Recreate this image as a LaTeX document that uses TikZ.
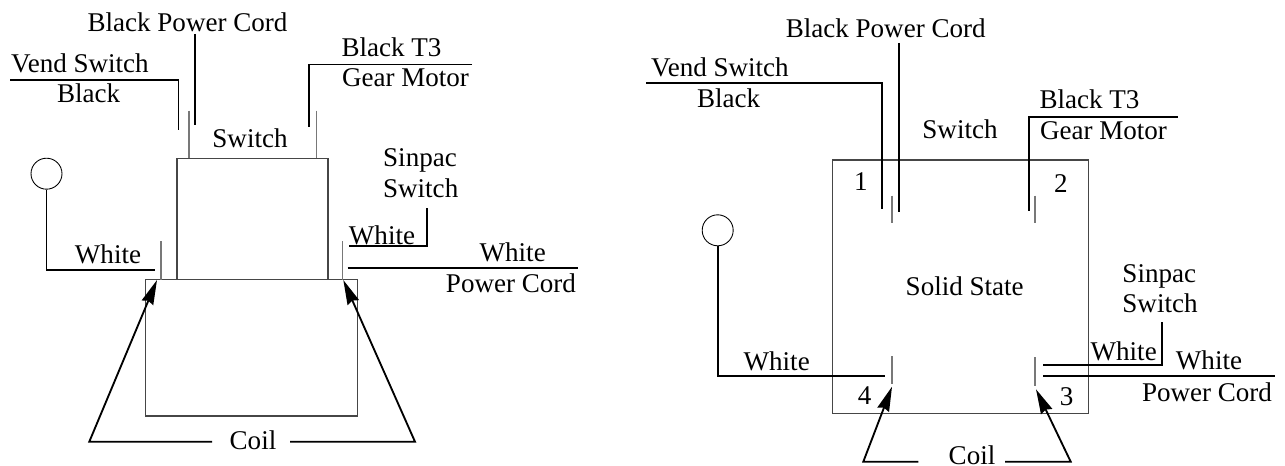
\documentclass[tikz,border=0pt]{standalone}
\usepackage{fontspec}
\setmainfont{Liberation Serif}
\usepackage{xcolor}
\definecolor{Col1}{RGB}{70,70,70}
\definecolor{Col2}{RGB}{120,120,120}
\usepackage{tikz}
\usetikzlibrary{arrows.meta}
\tikzstyle{Wire}=[draw=black,line width=1.05pt]
\tikzstyle{Coil}=[Wire,-{Stealth[length=14pt,width=7pt,inset=1.2pt]},shorten >=0pt]
\tikzstyle{Pin}=[draw=Col2,line width=.7pt]
\tikzstyle{Box}=[draw=Col1,line width=.6pt]
\tikzstyle{Lamp}=[circle,draw=black,line width=.5pt,inner sep=0pt,minimum size=.62cm]
\tikzstyle{Label}=[anchor=base,inner sep=0pt,font=\fontsize{15.4}{18}\selectfont]
\begin{document}
\begin{tikzpicture}[x=.02cm,y=-.02cm]
    \useasboundingbox(0,0)rectangle(1285,466);
    % switch side
    \node[Label](CordL)at(187.5,32){Black Power Cord};
    \node[Label](VendL)at(80,73){Vend Switch};
    \node[Label](BlackL)at(88.7,103){Black};
    \node[Label](SwitchL)at(250,147.7){Switch};
    \node[Label](MotorAL)at(391.5,56.5){Black T3};
    \node[Label](MotorBL)at(405.5,87){Gear Motor};
    \node[Label](SinpacAL)at(420,166.7){Sinpac};
    \node[Label](SinpacBL)at(420.7,197){Switch};
    \node[Label](WhiteSL)at(382,244){White};
    \node[Label](WhitePL)at(512.7,261.7){White};
    \node[Label](PowerL)at(511,292.7){Power Cord};
    \node[Label](WhiteLL)at(108,263.3){White};
    \node[Label](CoilL)at(253,449){Coil};
    \node[Lamp](LampL)at(46.5,173.7){};
    \coordinate(a1)at(177,158.3);
    \coordinate(a2)at(328,279.5);
    \coordinate(a3)at(145.3,279.5);
    \coordinate(a4)at(357.3,416);
    \draw[Box](a1)rectangle(a2);
    \draw[Box](a3)rectangle(a4);
    \coordinate(p1)at(189,110.7);
    \coordinate(p1b)at(189,158.3);
    \coordinate(p2)at(316.7,110.7);
    \coordinate(p2b)at(316.7,158.3);
    \coordinate(p3)at(161,241);
    \coordinate(p3b)at(161,279.5);
    \coordinate(p4)at(342.3,241);
    \coordinate(p4b)at(342.3,279.5);
    \draw[Pin](p1)--(p1b);
    \draw[Pin](p2)--(p2b);
    \draw[Pin](p3)--(p3b);
    \draw[Pin](p4)--(p4b);
    \coordinate(w1)at(10,80);
    \coordinate(w2)at(178.5,80);
    \coordinate(w3)at(178.5,130);
    \draw[Wire](w1)--(w2)--(w3);
    \coordinate(w4)at(195,34);
    \coordinate(w5)at(195,125);
    \draw[Wire](w4)--(w5);
    \coordinate(w6)at(472,64.5);
    \coordinate(w7)at(309,64.5);
    \coordinate(w8)at(309,126.7);
    \draw[Wire](w6)--(w7)--(w8);
    \coordinate(w9)at(46.5,270);
    \coordinate(w10)at(155,270);
    \draw[Wire](LampL)--(w9)--(w10);
    \coordinate(w11)at(426.7,208);
    \coordinate(w12)at(426.7,246);
    \coordinate(w13)at(349,246);
    \draw[Wire](w11)--(w12)--(w13);
    \coordinate(w14)at(347.7,268);
    \coordinate(w15)at(578,268);
    \draw[Wire](w14)--(w15);
    \coordinate(c1)at(212,441.7);
    \coordinate(c2)at(89.3,441.7);
    \coordinate(c3)at(157,280);
    \draw[Coil](c1)--(c2)--(c3);
    \coordinate(c4)at(290,441.7);
    \coordinate(c5)at(415,441.7);
    \coordinate(c6)at(343.3,280);
    \draw[Coil](c4)--(c5)--(c6);
    % solid state side
    \node[Label](CordR)at(885.7,37.7){Black Power Cord};
    \node[Label](VendR)at(720,76.7){Vend Switch};
    \node[Label](BlackR)at(728.7,107.7){Black};
    \node[Label](SwitchR)at(960,138){Switch};
    \node[Label](MotorAR)at(1089.5,108.7){Black T3};
    \node[Label](MotorBR)at(1103.5,139){Gear Motor};
    \node[Label](SolidR)at(964.7,295){Solid State};
    \node[Label](SinpacAR)at(1159.3,282.3){Sinpac};
    \node[Label](SinpacBR)at(1160,312.7){Switch};
    \node[Label](WhiteSR)at(1123.7,360){White};
    \node[Label](WhitePR)at(1209,369.3){White};
    \node[Label](PowerR)at(1207,401){Power Cord};
    \node[Label](WhiteLR)at(776.7,370){White};
    \node[Label](CoilR)at(972,464){Coil};
    \node[Label](Num1)at(861,190.7){1};
    \node[Label](Num2)at(1061,192.7){2};
    \node[Label](Num3)at(1066.7,405){3};
    \node[Label](Num4)at(864.7,404.3){4};
    \node[Lamp](LampR)at(717.7,230.3){};
    \coordinate(b1)at(832.3,160);
    \coordinate(b2)at(1088.3,413.3);
    \draw[Box](b1)rectangle(b2);
    \coordinate(q1)at(892,195.7);
    \coordinate(q1b)at(892,223.3);
    \coordinate(q2)at(1035,195.7);
    \coordinate(q2b)at(1035,223.3);
    \coordinate(q3)at(1035,357.3);
    \coordinate(q3b)at(1035,386);
    \coordinate(q4)at(892,356);
    \coordinate(q4b)at(892,384.3);
    \draw[Pin](q1)--(q1b);
    \draw[Pin](q2)--(q2b);
    \draw[Pin](q3)--(q3b);
    \draw[Pin](q4)--(q4b);
    \coordinate(x1)at(646,83.3);
    \coordinate(x2)at(882,83.3);
    \coordinate(x3)at(882,209);
    \draw[Wire](x1)--(x2)--(x3);
    \coordinate(x4)at(898.7,43);
    \coordinate(x5)at(898.7,212);
    \draw[Wire](x4)--(x5);
    \coordinate(x6)at(1177.7,117);
    \coordinate(x7)at(1029.3,117);
    \coordinate(x8)at(1029.3,210.7);
    \draw[Wire](x6)--(x7)--(x8);
    \coordinate(x9)at(717.7,376);
    \coordinate(x10)at(885,376);
    \draw[Wire](LampR)--(x9)--(x10);
    \coordinate(x11)at(1162,322.3);
    \coordinate(x12)at(1162,365.3);
    \coordinate(x13)at(1043.3,365.3);
    \draw[Wire](x11)--(x12)--(x13);
    \coordinate(x14)at(1043.3,376);
    \coordinate(x15)at(1275,376);
    \draw[Wire](x14)--(x15);
    \coordinate(d1)at(918.3,461.7);
    \coordinate(d2)at(863.3,461.7);
    \coordinate(d3)at(892,386.7);
    \draw[Coil](d1)--(d2)--(d3);
    \coordinate(d4)at(1005,461.7);
    \coordinate(d5)at(1070.7,461.7);
    \coordinate(d6)at(1036,389.3);
    \draw[Coil](d4)--(d5)--(d6);
\end{tikzpicture}
\end{document}
